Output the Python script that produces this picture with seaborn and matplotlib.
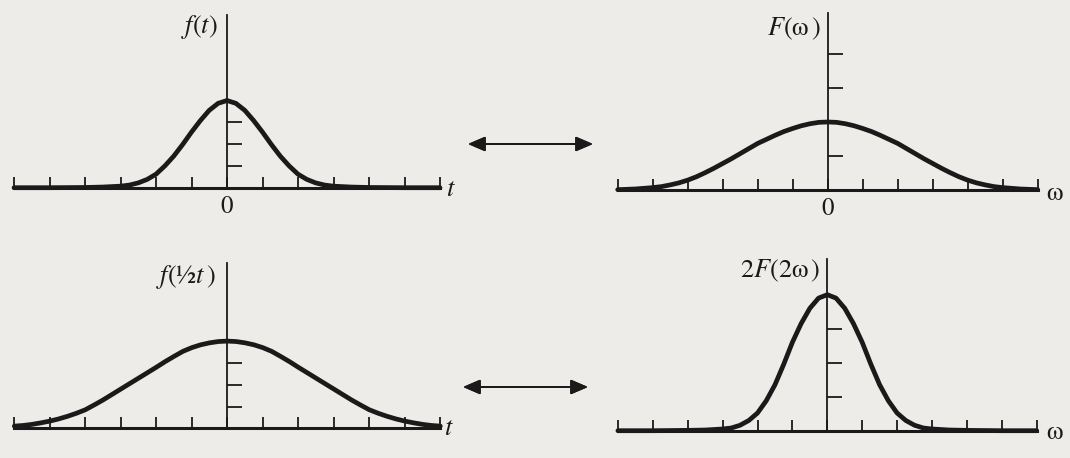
import matplotlib
matplotlib.use("Agg")
import matplotlib.pyplot as plt
import seaborn as sns

# values (in tick units)
t_top = [-6, -5, -4, -3.5, -3, -2.75, -2.5, -2.25, -2, -1.75, -1.5, -1.25, -1, -0.75, -0.5, -0.25,
         0, 0.25, 0.5, 0.75, 1, 1.25, 1.5, 1.75, 2, 2.25, 2.5, 2.75, 3, 3.5, 4, 5, 6]
f_t = [0, 0, 0.01, 0.03, 0.07, 0.12, 0.22, 0.38, 0.62, 1.0, 1.45, 1.98, 2.55, 3.08, 3.55, 3.87,
       4.0, 3.87, 3.55, 3.08, 2.55, 1.98, 1.45, 1.0, 0.62, 0.38, 0.22, 0.12, 0.07, 0.03, 0.01, 0, 0]

w_top = [-6, -5.75, -5.5, -5.25, -5, -4.75, -4.5, -4.25, -4, -3.75, -3.5, -3.25, -3, -2.75, -2.5,
         -2.25, -2, -1.75, -1.5, -1.25, -1, -0.75, -0.5, -0.25,
         0, 0.25, 0.5, 0.75, 1, 1.25, 1.5, 1.75, 2, 2.25, 2.5, 2.75, 3, 3.25, 3.5, 3.75,
         4, 4.25, 4.5, 4.75, 5, 5.25, 5.5, 5.75, 6]
F_w = [0.01, 0.02, 0.03, 0.05, 0.07, 0.1, 0.15, 0.21, 0.29, 0.39, 0.51, 0.64, 0.78, 0.92, 1.07,
       1.22, 1.37, 1.49, 1.61, 1.72, 1.81, 1.89, 1.95, 1.99,
       2.0, 1.99, 1.95, 1.89, 1.81, 1.72, 1.61, 1.49, 1.37, 1.22, 1.07, 0.92, 0.78, 0.64, 0.51, 0.39,
       0.29, 0.21, 0.15, 0.1, 0.07, 0.05, 0.03, 0.02, 0.01]

t_bot = [-6, -5.75, -5.5, -5.25, -5, -4.75, -4.5, -4.25, -4, -3.75, -3.5, -3.25, -3, -2.75, -2.5,
         -2.25, -2, -1.75, -1.5, -1.25, -1, -0.75, -0.5, -0.25,
         0, 0.25, 0.5, 0.75, 1, 1.25, 1.5, 1.75, 2, 2.25, 2.5, 2.75, 3, 3.25, 3.5, 3.75,
         4, 4.25, 4.5, 4.75, 5, 5.25, 5.5, 5.75, 6]
f_half_t = [0.1, 0.13, 0.18, 0.25, 0.33, 0.43, 0.55, 0.69, 0.85, 1.07, 1.3, 1.55, 1.8, 2.05, 2.3,
            2.55, 2.8, 3.06, 3.3, 3.53, 3.7, 3.83, 3.92, 3.98,
            4.0, 3.98, 3.92, 3.83, 3.7, 3.53, 3.3, 3.06, 2.8, 2.55, 2.3, 2.05, 1.8, 1.55, 1.3, 1.07,
            0.85, 0.69, 0.55, 0.43, 0.33, 0.25, 0.18, 0.13, 0.1]

w_bot = [-6, -5, -4, -3.5, -3, -2.75, -2.5, -2.25, -2, -1.75, -1.5, -1.25, -1, -0.75, -0.5, -0.25,
         0, 0.25, 0.5, 0.75, 1, 1.25, 1.5, 1.75, 2, 2.25, 2.5, 2.75, 3, 3.5, 4, 5, 6]
F2_2w = [0, 0, 0.01, 0.02, 0.05, 0.08, 0.16, 0.3, 0.52, 0.88, 1.35, 1.95, 2.6, 3.15, 3.6, 3.9,
         4.0, 3.9, 3.6, 3.15, 2.6, 1.95, 1.35, 0.88, 0.52, 0.3, 0.16, 0.08, 0.05, 0.02, 0.01, 0, 0]

x_ticks = [-6, -5, -4, -3, -2, -1, 0, 1, 2, 3, 4, 5, 6]
yticks_f = [1, 2, 3]
yticks_F = [1, 3, 4]
yticks_2F = [1, 2, 3]

sns.set_theme(style="white")
plt.rcParams["font.family"] = ["STIXGeneral", "DejaVu Sans"]
plt.rcParams["mathtext.fontset"] = "stix"

W, H = 1070, 458
bg = "#edece8"
ink = "#1a1a1a"
fig = plt.figure(figsize=(W / 100, H / 100), dpi=100, facecolor=bg)


def panel(cx, base, ux, uy, ytop, x, y, yt, ylab, ylab_pos, xlab, xlab_pos, zero=True):
    left = cx - 6 * ux
    ax = fig.add_axes([left / W, 1 - base / H, 12 * ux / W, ytop * uy / H])
    ax.set_facecolor("none")
    sns.lineplot(x=x, y=y, ax=ax, color=ink, linewidth=3.4)
    for ln in ax.lines:
        ln.set_clip_on(False)
        ln.set_zorder(4)
        ln.set_solid_joinstyle("round")
    ax.set_xlim(-6, 6)
    ax.set_ylim(0, ytop)
    ax.spines["top"].set_visible(False)
    ax.spines["right"].set_visible(False)
    ax.spines["left"].set_position(("data", 0))
    ax.spines["left"].set_linewidth(1.3)
    ax.spines["bottom"].set_linewidth(2.2)
    for s in ax.spines.values():
        s.set_color(ink)
    ax.set_xticks(x_ticks)
    ax.set_xticklabels(["0" if (v == 0 and zero) else "" for v in x_ticks])
    ax.set_yticks(yt)
    ax.set_yticklabels([])
    ax.tick_params(axis="x", direction="in", length=8, width=1.3, color=ink,
                   labelsize=18, pad=5, labelcolor=ink, bottom=True)
    ax.tick_params(axis="y", direction="in", length=11, width=1.3, color=ink, left=True)
    ax.grid(False)
    ax.text(ylab_pos[0], ylab_pos[1], ylab, ha="right", va="center", fontsize=19, color=ink)
    ax.text(xlab_pos[0], xlab_pos[1], xlab, ha="center", va="center", fontsize=19, color=ink)
    return ax


panel(227, 187.7, 35.5, 21.8, 7.9, t_top, f_t, yticks_f, "$f(t)$", (-0.25, 7.37), "$t$", (6.31, -0.1))
panel(827.7, 190, 35, 34, 5.2, w_top, F_w, yticks_F, "$F($ω$\\,)$", (-0.2, 4.75), "ω", (6.47, -0.12))
panel(227.3, 428.3, 35.5, 21.8, 7.57, t_bot, f_half_t, yticks_f, "$f($½$t\\,)$", (-0.32, 6.94),
      "$t$", (6.25, -0.03), zero=False)
panel(827.3, 430.7, 34.9, 34, 5.04, w_bot, F2_2w, yticks_2F, "$2F(2$ω$\\,)$", (-0.19, 4.7),
      "ω", (6.5, -0.07), zero=False)

# transform-pair arrows
for x0, x1, yy in [(468, 593, 144), (463, 588, 387)]:
    fig.add_artist(plt.annotate("", xy=(x1, H - yy), xytext=(x0, H - yy), xycoords="figure pixels",
                                textcoords="figure pixels",
                                arrowprops=dict(arrowstyle="<|-|>,head_length=0.7,head_width=0.3",
                                                color=ink, lw=1.3,
                                                mutation_scale=15, shrinkA=0, shrinkB=0)))

fig.savefig("out.png", dpi=100, facecolor=bg)
